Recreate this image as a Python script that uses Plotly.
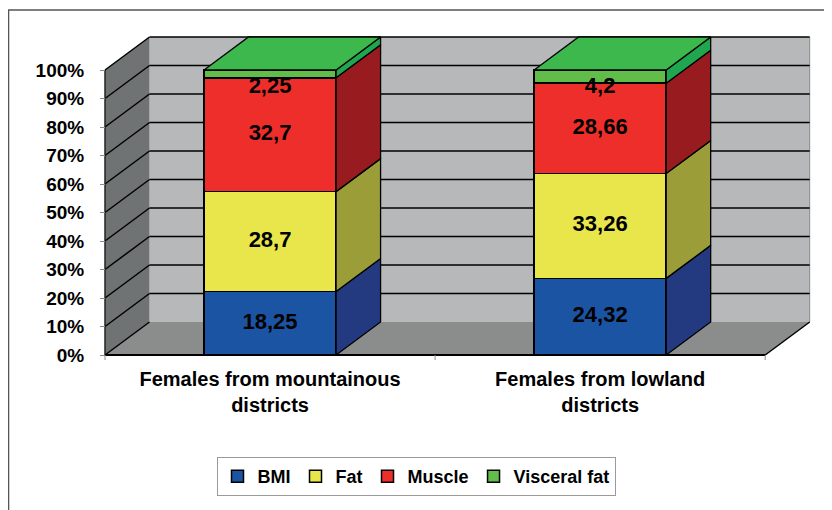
import plotly.graph_objects as go

# ---- data ----
categories = ["Females from mountainous<br>districts", "Females from lowland<br>districts"]
series_names = ["BMI", "Fat", "Muscle", "Visceral fat"]
bmi = [18.25, 24.32]
fat = [28.7, 33.26]
muscle = [32.7, 28.66]
visceral = [2.25, 4.2]
y_tick_vals = [0, 10, 20, 30, 40, 50, 60, 70, 80, 90, 100]
y_tick_labels = ["0%", "10%", "20%", "30%", "40%", "50%", "60%", "70%", "80%", "90%", "100%"]

# ---- style ----
FRONT = ["#1b54a3", "#e8e64b", "#ee2e2b", "#62bc4a"]
SIDE = ["#233a80", "#9b9e38", "#981b20", "#20a64f"]
TOP = "#3db84c"
BACK_WALL = "#b6b8b9"
SIDE_WALL = "#707373"
FLOOR = "#8b8d8d"
FONT = "Liberation Sans"

PX = 330.1          # pixels per category unit
PY = 2.85           # pixels per percent
DX = 44.5 / PX      # 3d depth offset, x
DY = 33 / PY        # 3d depth offset, y
HALF = 0.2          # half bar width
X0, X1 = -0.5, 1.5  # floor extent

values = [bmi, fat, muscle, visceral]
xpos = list(range(len(categories)))
totals = [sum(s[i] for s in values) for i in xpos]

# normalised stack bounds (same as barnorm="percent")
bottoms, tops = [], []
run = [0.0] * len(xpos)
for s in values:
    b = list(run)
    t = [run[i] + 100 * s[i] / totals[i] for i in xpos]
    bottoms.append(b)
    tops.append(t)
    run = t

fig = go.Figure()

# front faces
for k, name in enumerate(series_names):
    fig.add_trace(go.Bar(
        x=xpos, y=values[k], name=name, width=2 * HALF,
        marker=dict(color=FRONT[k], line=dict(color="black", width=1.5)),
        hoverinfo="skip",
    ))

# right side faces
for k in range(len(series_names)):
    xs, ys = [], []
    for i, c in enumerate(xpos):
        b, t = bottoms[k][i], tops[k][i]
        xs += [c + HALF, c + HALF + DX, c + HALF + DX, c + HALF, c + HALF, None]
        ys += [b, b + DY, t + DY, t, b, None]
    fig.add_trace(go.Scatter(
        x=xs, y=ys, mode="lines", fill="toself", fillcolor=SIDE[k],
        line=dict(color="black", width=1.3), showlegend=False, hoverinfo="skip",
    ))

# top faces
xs, ys = [], []
for c in xpos:
    xs += [c - HALF, c - HALF + DX, c + HALF + DX, c + HALF, c - HALF, None]
    ys += [100, 100 + DY, 100 + DY, 100, 100, None]
fig.add_trace(go.Scatter(
    x=xs, y=ys, mode="lines", fill="toself", fillcolor=TOP,
    line=dict(color="black", width=1.3), showlegend=False, hoverinfo="skip",
))

# data labels
for k in range(len(series_names)):
    ly = []
    for i in xpos:
        mid = (bottoms[k][i] + tops[k][i]) / 2
        ly.append(min(mid, 93.8))
    fig.add_trace(go.Scatter(
        x=xpos, y=ly, mode="text",
        text=[f"{v:g}".replace(".", ",") for v in values[k]],
        textfont=dict(family=FONT, size=22, color="black", weight="bold"),
        showlegend=False, hoverinfo="skip",
    ))

# walls, floor, gridlines
shapes = [
    dict(type="rect", x0=X0 + DX, x1=X1 + DX, y0=DY, y1=100 + DY,
         fillcolor=BACK_WALL, line=dict(width=0), layer="below"),
    dict(type="path", path=f"M {X0},0 L {X0},100 L {X0 + DX},{100 + DY} L {X0 + DX},{DY} Z",
         fillcolor=SIDE_WALL, line=dict(width=0), layer="below"),
    dict(type="path", path=f"M {X0},0 L {X1},0 L {X1 + DX},{DY} L {X0 + DX},{DY} Z",
         fillcolor=FLOOR, line=dict(width=0), layer="below"),
    dict(type="line", x0=X1 + DX, x1=X1 + DX, y0=DY, y1=100 + DY,
         line=dict(color="#8a8a8a", width=1), layer="below"),
]
for v in y_tick_vals:
    if v > 0:
        shapes.append(dict(type="line", x0=X0 + DX, x1=X1 + DX, y0=v + DY, y1=v + DY,
                           line=dict(color="black", width=1.5), layer="below"))
    shapes.append(dict(type="line", x0=X0, x1=X0 + DX, y0=v, y1=v + DY,
                       line=dict(color="black", width=1.5), layer="below"))
shapes += [
    dict(type="line", x0=X0, x1=X0, y0=0, y1=100, line=dict(color="#222", width=1.5), layer="below"),
    dict(type="line", x0=X0, x1=X1, y0=0, y1=0, line=dict(color="black", width=1.8), layer="below"),
    dict(type="line", x0=X1, x1=X1 + DX, y0=0, y1=DY, line=dict(color="black", width=1.5), layer="below"),
]
for xv in [X0, 0.5, X1]:
    shapes.append(dict(type="line", x0=xv, x1=xv, y0=0, y1=-5 / PY,
                       line=dict(color="#8c8c8c", width=1), layer="below"))
# outer chart frame
shapes.append(dict(type="rect", xref="paper", yref="paper",
                   x0=-0.1201, x1=1.05, y0=-0.52, y1=1.0294,
                   line=dict(color="#555555", width=1.5), fillcolor="rgba(0,0,0,0)"))

# the page body adds 8px, so the plot area is placed 8px up/left of the target
plot_w = 720
fig.update_layout(
    barmode="stack",
    barnorm="percent",
    width=832, height=510,
    margin=dict(l=87, r=25, t=12, b=158, autoexpand=False),
    paper_bgcolor="white",
    plot_bgcolor="white",
    font=dict(family=FONT, color="black"),
    shapes=shapes,
    xaxis=dict(
        range=[X0 - 10 / PX, X0 - 10 / PX + plot_w / PX],
        tickvals=xpos, ticktext=categories, ticks="",
        tickfont=dict(family=FONT, size=20, weight="bold"),
        showgrid=False, zeroline=False, showline=False,
        ticklabelstandoff=5, automargin=False,
    ),
    yaxis=dict(
        anchor="free", position=10 / plot_w,
        range=[-5 / PY, 335 / PY],
        tickvals=y_tick_vals, ticktext=y_tick_labels,
        ticks="outside", ticklen=5, tickcolor="#8c8c8c", tickwidth=1,
        tickfont=dict(family=FONT, size=19, weight="bold"),
        showgrid=False, zeroline=False, showline=False,
        ticklabelstandoff=12, automargin=False,
    ),
    legend=dict(
        orientation="h", x=(416 - 95) / plot_w, xanchor="center",
        y=(360 - 457) / 340, yanchor="top",
        bordercolor="#9a9a9a", borderwidth=1,
        font=dict(family=FONT, size=18, weight="bold"),
        itemwidth=30, traceorder="normal",
    ),
    showlegend=True,
)

fig.write_html("out.html")
